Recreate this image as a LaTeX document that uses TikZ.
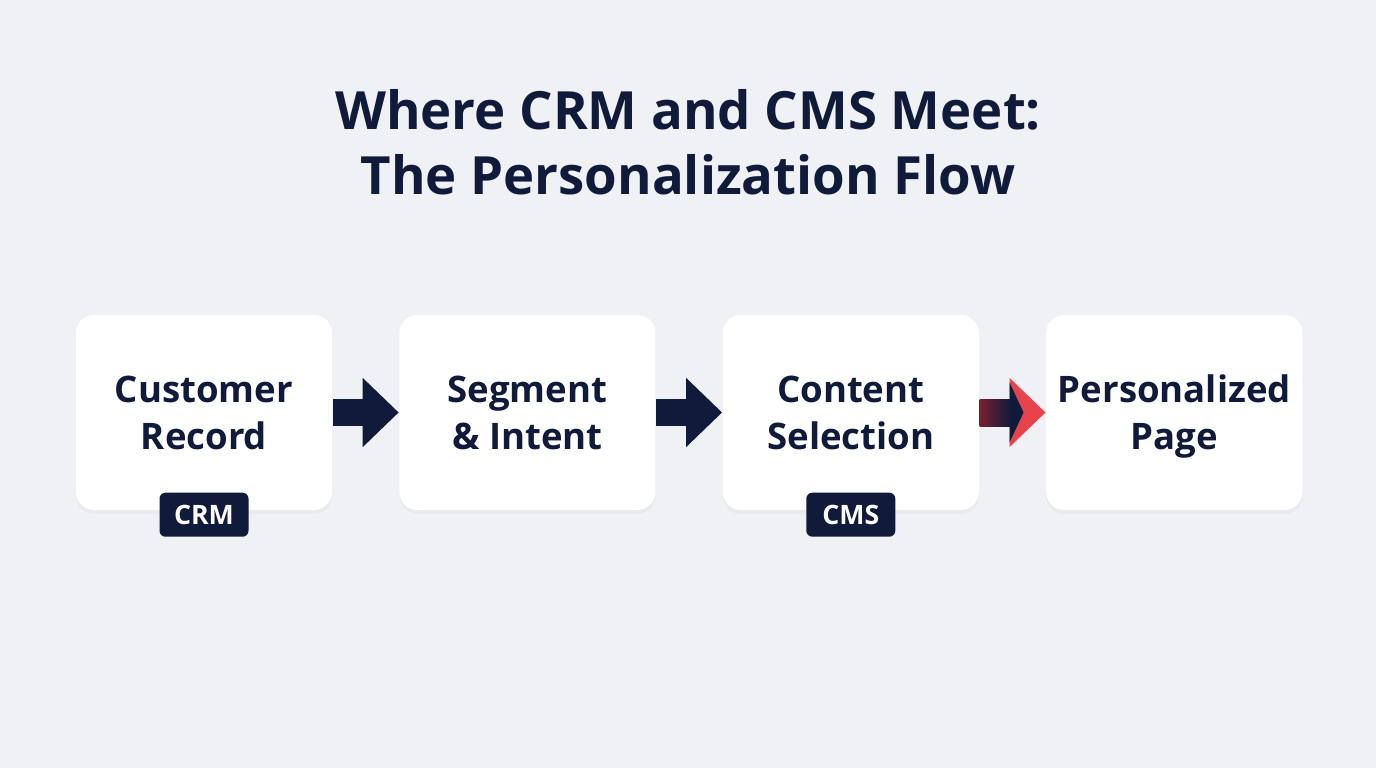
\documentclass[tikz,border=0pt]{standalone}
\usepackage{fontspec}
\setmainfont{Open Sans}
\usetikzlibrary{positioning, arrows.meta, calc, shadows}
\definecolor{navy}{RGB}{16,26,58}
\definecolor{bggray}{RGB}{240,241,244}
\definecolor{accentred}{RGB}{232,66,74}
\definecolor{darkred}{RGB}{122,32,48}

\begin{document}
\begin{tikzpicture}[
  node distance=0.3cm and 0.66cm,
  card/.style={fill=white, rounded corners=0.18cm, minimum width=2.56cm, minimum height=1.95cm,
               align=center, font=\fontsize{10.4}{13.4}\selectfont\bfseries, text=navy, text depth=0pt,
               drop shadow={opacity=0.06, shadow xshift=0pt, shadow yshift=-0.04cm}},
  tag/.style={fill=navy, rounded corners=0.06cm, minimum width=0.89cm, minimum height=0.44cm,
              text=white, font=\fontsize{7.6}{9}\selectfont\bfseries, inner sep=0pt},
  arrow/.style={line width=0.27cm, navy, -{Triangle[length=0.36cm, width=0.67cm]}}
]
  \fill[bggray] (0,0) rectangle (13.76,-7.68);
  \useasboundingbox (0,0) rectangle (13.76,-7.68);

  \node[text=navy, align=center, font=\fontsize{15}{18.5}\selectfont\bfseries] (title) at (6.88,-1.42)
    {Where CRM and CMS Meet:\\The Personalization Flow};

  \node[card] (rec) at (2.04,-4.125) {Customer\\Record};
  \node[card, right=of rec] (seg) {Segment\\\& Intent};
  \node[card, right=of seg] (sel) {Content\\Selection};
  \node[card, right=of sel] (page) {Personalized\\Page};

  \node[tag] (crm) at ($(rec.south)+(0,-0.04)$) {CRM};
  \node[tag] (cms) at ($(sel.south)+(0,-0.04)$) {CMS};

  \draw[arrow] (rec.east) -- (seg.west);
  \draw[arrow] (seg.east) -- (sel.west);
  % last step: red head, shaded shaft
  \draw[arrow, accentred] (sel.east) -- (page.west);
  \fill[navy] ($(page.west)+(-0.36,0.3)$) -- ($(page.west)+(-0.22,0)$) -- ($(page.west)+(-0.36,-0.3)$) -- cycle;
  \shade[left color=darkred, right color=navy] ($(sel.east)+(0,-0.135)$) rectangle ($(page.west)+(-0.35,0.135)$);
\end{tikzpicture}
\end{document}
